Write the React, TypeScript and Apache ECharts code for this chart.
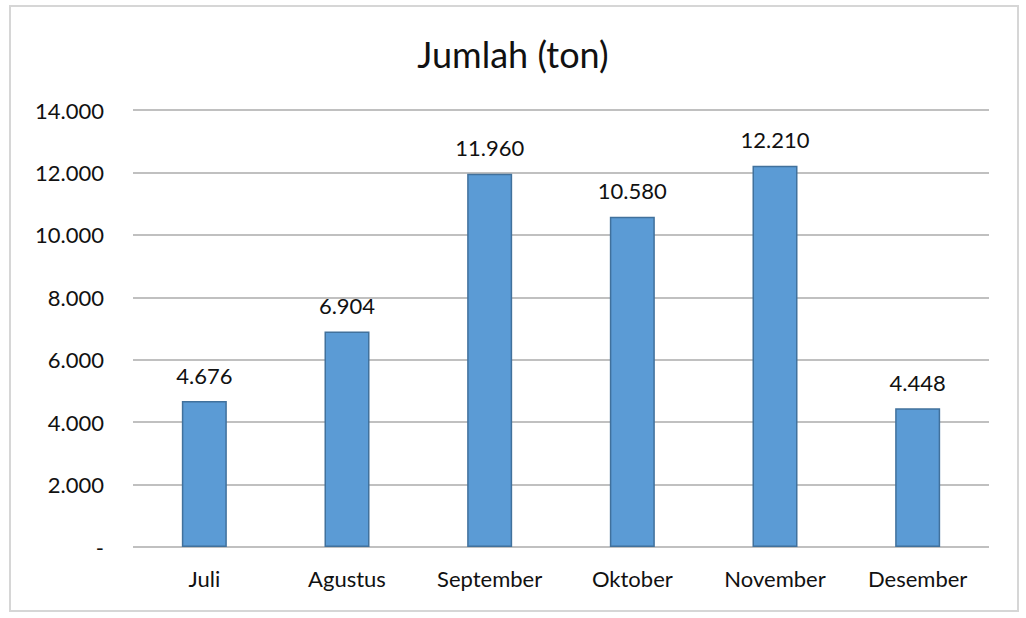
import { useEffect, useRef } from "react";
import * as echarts from "echarts";

const months = ["Juli", "Agustus", "September", "Oktober", "November", "Desember"];
const jumlah = [4676, 6904, 11960, 10580, 12210, 4448];
const yTicks = { min: 0, max: 14000, interval: 2000 };

const fmt = (v: number) =>
  v === 0 ? "-" : String(v).replace(/\B(?=(\d{3})+(?!\d))/g, ".");

export default function App() {
  const chartRef = useRef<HTMLDivElement>(null);

  useEffect(() => {
    document.body.style.margin = "0";
    if (!chartRef.current) return;
    const myChart = echarts.init(chartRef.current, undefined, { renderer: "svg" });

    const font = "Lato, 'Open Sans', sans-serif";
    const option = {
      animation: false,
      backgroundColor: "#ffffff",
      textStyle: { fontFamily: font },
      title: {
        text: "Jumlah (ton)",
        left: "center",
        top: 31,
        textStyle: { fontFamily: font, fontSize: 36, fontWeight: "normal", color: "#111111" },
      },
      graphic: [
        {
          type: "rect",
          shape: { x: 10, y: 6, width: 1008, height: 605 },
          style: { fill: "none", stroke: "#d6d6d6", lineWidth: 2 },
          silent: true,
        },
      ],
      grid: { left: 133, right: 37, top: 110, bottom: 71 },
      xAxis: {
        type: "category",
        data: months,
        axisLine: { show: false },
        axisTick: { show: false },
        axisLabel: { fontFamily: font, fontSize: 22, color: "#111111", margin: 20 },
      },
      yAxis: {
        type: "value",
        min: yTicks.min,
        max: yTicks.max,
        interval: yTicks.interval,
        axisLine: { show: false },
        axisTick: { show: false },
        axisLabel: {
          fontFamily: font,
          fontSize: 22,
          color: "#111111",
          margin: 29,
          formatter: (v: number) => fmt(v),
        },
        splitLine: { lineStyle: { color: "#c0c0c0", width: 2 } },
      },
      series: [
        {
          type: "bar",
          data: jumlah,
          barWidth: 45,
          itemStyle: { color: "#5b9bd5", borderColor: "#41719c", borderWidth: 1.5 },
          label: {
            show: true,
            position: "top",
            distance: 15,
            fontFamily: font,
            fontSize: 22,
            color: "#111111",
            formatter: (p: any) => fmt(p.value),
          },
        },
      ],
    };

    myChart.setOption(option);

    const handleResize = () => myChart.resize();
    window.addEventListener("resize", handleResize);
    return () => {
      window.removeEventListener("resize", handleResize);
      myChart.dispose();
    };
  }, []);

  return <div ref={chartRef} style={{ width: "1026px", height: "618px" }} />;
}
